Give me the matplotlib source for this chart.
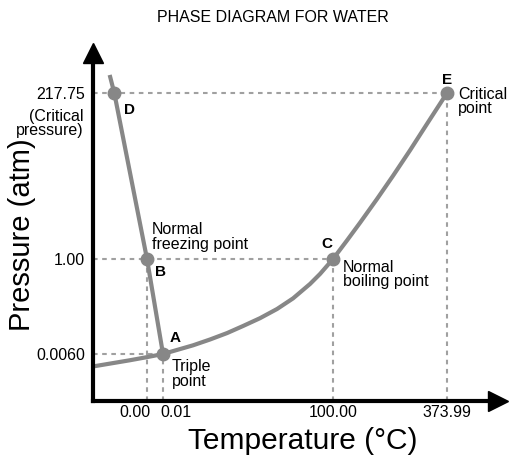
import numpy as np
import matplotlib
matplotlib.use("Agg")
import matplotlib.pyplot as plt
from matplotlib.transforms import ScaledTranslation

plt.rcParams['font.family'] = ['Liberation Sans', 'DejaVu Sans']

# tick values (schematic, not to scale)
temp_ticks = [0.00, 0.01, 100.00, 373.99]
temp_labels = ['0.00', '0.01', '100.00', '373.99']
pres_ticks = [0.0060, 1.00, 217.75]
pres_labels = ['0.0060', '1.00', '217.75']

# vapour pressure curve (solid/gas + liquid/gas)
vap_T = [-20, -6.3, 0.00, 0.01, 17.7, 27.7, 37.7, 47.1, 57.1, 67.1, 76.5, 86.5, 92.4,
         100.00, 133.6, 164.9, 205.7, 244.2, 285.1, 325.9, 373.99]
vap_p = [0.0044, 0.0052, 0.0056, 0.0060, 0.097, 0.158, 0.225, 0.299, 0.381, 0.477, 0.588,
         0.739, 0.844, 1.00, 25.2, 48.3, 79.3, 109.6, 142.9, 177.4, 217.75]

# melting curve (solid/liquid)
melt_T = [-13.7, -12.0, 0.00, 0.01]
melt_p = [241.3, 217.75, 1.00, 0.0060]

# labelled points
pt_names = ['A', 'B', 'C', 'D', 'E']
pt_T = [0.01, 0.00, 100.00, -12.0, 373.99]
pt_p = [0.0060, 1.00, 1.00, 217.75, 217.75]

# the diagram is not to scale: piecewise linear scales
T_knots = [-20, 0.00, 0.01, 100.00, 373.99, 525]
T_pos = [92.5, 147, 163, 333, 447, 510]
p_knots = [0, 0.0060, 1.00, 217.75, 300]
p_pos = [61, 108, 203, 369, 432]


def fwd_T(v):
    return np.interp(v, T_knots, T_pos)


def inv_T(v):
    return np.interp(v, T_pos, T_knots)


def fwd_p(v):
    return np.interp(v, p_knots, p_pos)


def inv_p(v):
    return np.interp(v, p_pos, p_knots)


curve_col = '#878787'
dash_col = '#a0a0a0'

fig = plt.figure(figsize=(5.09, 4.62), dpi=100)
ax = fig.add_axes([92.5 / 509, 61 / 462, (498 - 92.5) / 509, (409 - 61) / 462])
ax.set_xscale('function', functions=(fwd_T, inv_T))
ax.set_yscale('function', functions=(fwd_p, inv_p))
ax.set_xlim(-20, float(inv_T(498)))
ax.set_ylim(0, float(inv_p(409)))

# guide lines
dash = dict(color=dash_col, lw=1.5, ls=(0, (2.2, 2.2)), zorder=1)
x0 = -20
ax.plot([x0, pt_T[4]], [pt_p[4], pt_p[4]], **dash)
ax.plot([x0, pt_T[2]], [pt_p[2], pt_p[2]], **dash)
ax.plot([x0, pt_T[0]], [pt_p[0], pt_p[0]], **dash)
for i in [0, 1, 2, 4]:
    ax.plot([pt_T[i], pt_T[i]], [0, pt_p[i]], **dash)

ax.plot(vap_T, vap_p, color=curve_col, lw=3, zorder=2, solid_capstyle='butt',
        solid_joinstyle='round')
ax.plot(melt_T, melt_p, color=curve_col, lw=3, zorder=2, solid_capstyle='butt')
ax.plot(pt_T, pt_p, 'o', color=curve_col, ms=9, zorder=3, clip_on=False)

letter_off = {'A': (8.6, 11.5), 'B': (9.4, -9.4), 'C': (-4.3, 10.8),
              'D': (11.2, -12.2), 'E': (0, 9.4)}
for n, t, p in zip(pt_names, pt_T, pt_p):
    ax.annotate(n, (t, p), xytext=letter_off[n], textcoords='offset points',
                ha='center', va='center', fontsize=11, fontweight='bold')

notes = [('Normal\nfreezing point', 1, (3.6, 15.8)),
         ('Triple\npoint', 0, (6.5, -14.4)),
         ('Normal\nboiling point', 2, (7.2, -11.2)),
         ('Critical\npoint', 4, (7.9, -6.1))]
for txt, i, off in notes:
    ax.annotate(txt, (pt_T[i], pt_p[i]), xytext=off, textcoords='offset points',
                ha='left', va='center', fontsize=11.5, linespacing=0.95)

ax.annotate('(Critical\npressure)', (0, pres_ticks[2]), xycoords=('axes fraction', 'data'),
            xytext=(-6.8, -22), textcoords='offset points', ha='right', va='center',
            fontsize=11.5, linespacing=0.95, annotation_clip=False)

# axes with arrows
for s in ['top', 'right']:
    ax.spines[s].set_visible(False)
for s in ['left', 'bottom']:
    ax.spines[s].set_linewidth(3)
    ax.spines[s].set_capstyle('projecting')
ax.plot(1, 0, '>k', ms=14, transform=ax.transAxes, clip_on=False)
ax.plot(0, 1, '^k', ms=14, transform=ax.transAxes, clip_on=False)

ax.set_xticks(temp_ticks)
ax.set_xticklabels(temp_labels, fontsize=11.5)
ax.set_yticks(pres_ticks)
ax.set_yticklabels(pres_labels, fontsize=11.5)
ax.minorticks_off()
ax.tick_params(axis='both', length=0)
ax.tick_params(axis='x', pad=3)
ax.tick_params(axis='y', pad=5.5)
lbls = ax.get_xticklabels()
lbls[0].set_ha('right')
lbls[0].set_transform(lbls[0].get_transform() + ScaledTranslation(3 / 100, 0, fig.dpi_scale_trans))
lbls[1].set_ha('left')
lbls[1].set_transform(lbls[1].get_transform() + ScaledTranslation(-3 / 100, 0, fig.dpi_scale_trans))

fig.text(303 / 509, 1 - 441 / 462, 'Temperature (°C)', ha='center', va='center', fontsize=21.5)
fig.text(22 / 509, 1 - 235 / 462, 'Pressure (atm)', ha='center', va='center',
         fontsize=21, rotation=90)
fig.text(273 / 509, 1 - 18 / 462, 'PHASE DIAGRAM FOR WATER', ha='center', va='center',
         fontsize=11.5)

fig.savefig('out.png', dpi=100)
